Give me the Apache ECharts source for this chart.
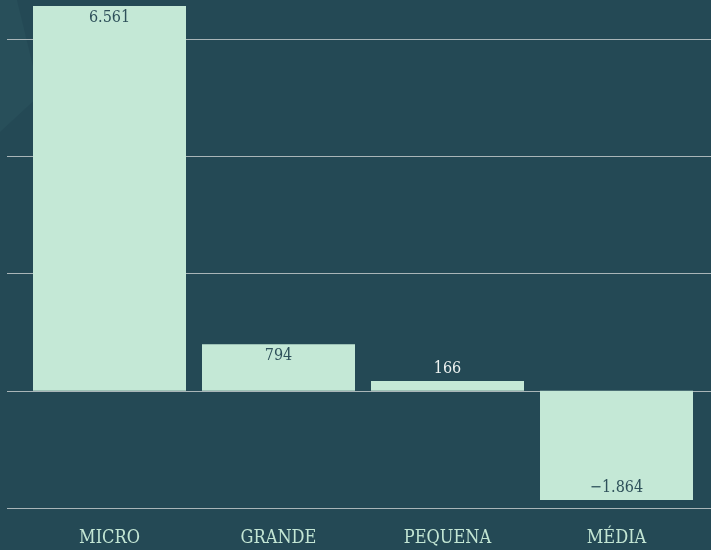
<!DOCTYPE html>
<html>
<head>
<meta charset="utf-8">
<script src="https://cdn.jsdelivr.net/npm/echarts@6/dist/echarts.min.js"></script>
<style>
  html, body { margin: 0; padding: 0; background: #244955; }
  #chart { width: 711px; height: 550px; }
</style>
</head>
<body>
<div id="chart"></div>
<script>
// dados do gráfico
var categorias = ['MICRO', 'GRANDE', 'PEQUENA', 'MÉDIA'];
var valores = [6561, 794, 166, -1864];
var yMin = -2000, yMaxLinhas = 6000, yIntervalo = 2000;

var fonte = "'DejaVu Serif Condensed', 'DejaVu Serif', serif";

// formata 6561 -> 6.561 e -1864 -> −1.864
function formata(v) {
  var s = Math.abs(v).toString().replace(/\B(?=(\d{3})+(?!\d))/g, '.');
  return (v < 0 ? '\u2212' : '') + s;
}

// posição do rótulo: dentro da barra, menos na PEQUENA (barra baixa)
var dadosSerie = valores.map(function (v, i) {
  var item = { value: v };
  if (v < 0) {
    item.label = { position: 'insideBottom' };
  } else if (v < 400) {
    item.label = { position: 'top', color: '#eef3f1' };
  }
  return item;
});

var chart = echarts.init(document.getElementById('chart'));

var option = {
  backgroundColor: '#244955',
  animation: false,
  graphic: [{
    type: 'polygon',
    z: -10,
    shape: { points: [[0, 0], [17, 0], [40, 95], [0, 132]] },
    style: { fill: '#284f5a' }
  }],
  grid: [
    // grade só para as linhas horizontais (mais larga)
    { left: 7, right: 0, top: 39, bottom: 42 },
    // grade das barras
    { left: 25, right: 10, top: 6, bottom: 42 }
  ],
  xAxis: [
    { type: 'category', gridIndex: 0, data: categorias, show: false },
    {
      type: 'category', gridIndex: 1, data: categorias,
      axisLine: { show: false }, axisTick: { show: false },
      axisLabel: { color: '#c3e6d4', fontFamily: fonte, fontSize: 18, margin: 21 }
    }
  ],
  yAxis: [
    {
      type: 'value', gridIndex: 0, min: yMin, max: yMaxLinhas, interval: yIntervalo,
      axisLabel: { show: false }, axisLine: { show: false }, axisTick: { show: false },
      splitLine: { show: true, lineStyle: { color: '#a9b5b8', width: 1 } }
    },
    {
      type: 'value', gridIndex: 1, min: yMin, max: 'dataMax',
      show: false, splitLine: { show: false }
    }
  ],
  series: [{
    type: 'bar',
    xAxisIndex: 1,
    yAxisIndex: 1,
    barWidth: 153,
    data: dadosSerie,
    itemStyle: { color: '#c4e8d6' },
    label: {
      show: true,
      position: 'insideTop',
      distance: 4,
      color: '#2e505a',
      fontFamily: fonte,
      fontSize: 16,
      formatter: function (p) { return formata(p.value); }
    }
  }]
};
chart.setOption(option);
</script>
</body>
</html>
